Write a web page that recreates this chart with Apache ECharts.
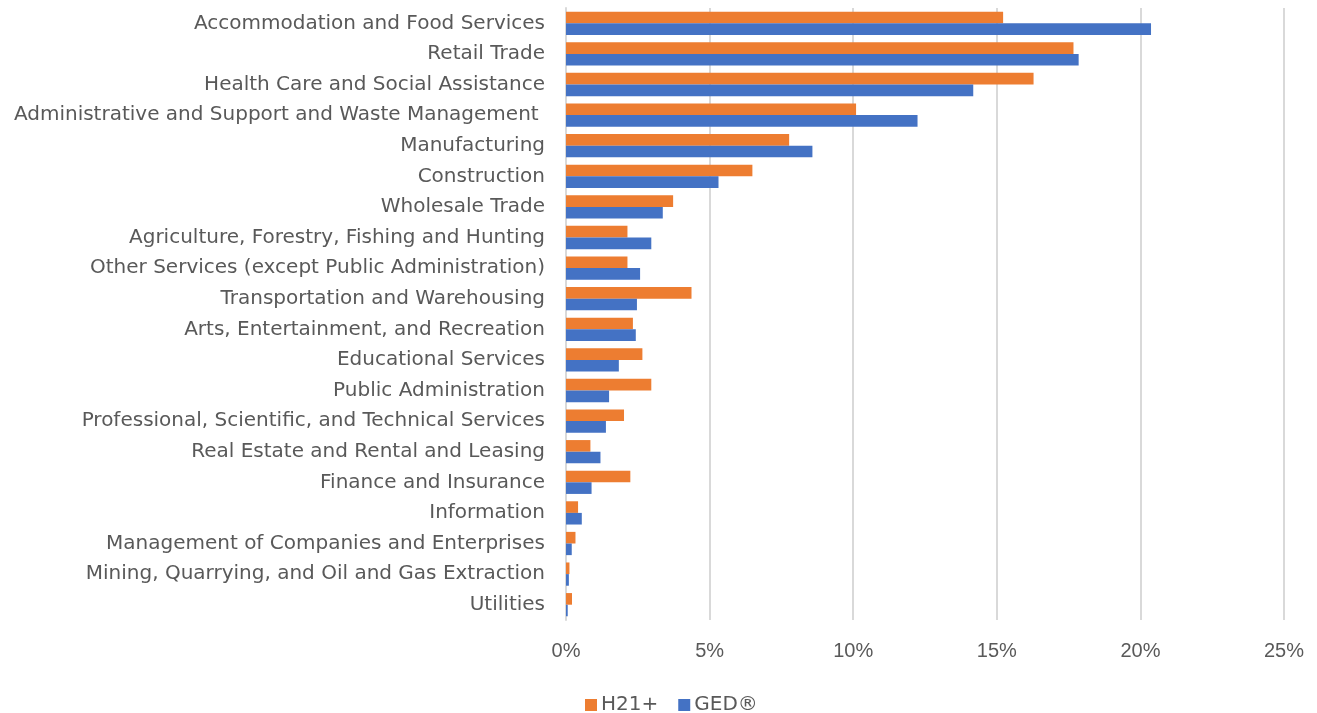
<!DOCTYPE html>
<html><head><meta charset="utf-8">
<script src="https://cdn.jsdelivr.net/npm/echarts@6/dist/echarts.min.js"></script>
<style>html,body{margin:0;padding:0;background:#fff}#c{width:1317px;height:713px}</style>
</head><body><div id="c"></div>
<script>
const categories = [
  "Accommodation and Food Services",
  "Retail Trade",
  "Health Care and Social Assistance",
  "Administrative and Support and Waste Management ",
  "Manufacturing",
  "Construction",
  "Wholesale Trade",
  "Agriculture, Forestry, Fishing and Hunting",
  "Other Services (except Public Administration)",
  "Transportation and Warehousing",
  "Arts, Entertainment, and Recreation",
  "Educational Services",
  "Public Administration",
  "Professional, Scientific, and Technical Services",
  "Real Estate and Rental and Leasing",
  "Finance and Insurance",
  "Information",
  "Management of Companies and Enterprises",
  "Mining, Quarrying, and Oil and Gas Extraction",
  "Utilities"
];
const h21 = [15.22, 17.67, 16.28, 10.10, 7.77, 6.49, 3.73, 2.14, 2.14, 4.37, 2.33, 2.66, 2.97, 2.02, 0.85, 2.24, 0.42, 0.33, 0.12, 0.21];
const ged = [20.37, 17.85, 14.18, 12.24, 8.58, 5.31, 3.37, 2.97, 2.58, 2.47, 2.43, 1.84, 1.50, 1.39, 1.20, 0.89, 0.55, 0.20, 0.10, 0.06];
const seriesNames = ["H21+", "GED®"];

const chart = echarts.init(document.getElementById('c'));
const font = "'DejaVu Sans', 'Liberation Sans', Arial, sans-serif";
const tickFont = "'Liberation Sans', Arial, sans-serif";
chart.setOption({
  animation: false,
  textStyle: {fontFamily: font},
  grid: {left: 566, right: 33, top: 8, bottom: 93, containLabel: false},
  legend: {
    bottom: -7, left: 580,
    itemWidth: 12, itemHeight: 12, itemGap: 20,
    icon: 'rect',
    textStyle: {fontSize: 20, color: '#595959', fontFamily: font, padding: [0, 0, 0, -1]},
    data: seriesNames
  },
  xAxis: {
    type: 'value', min: 0, max: 25, interval: 5,
    axisLine: {show: false}, axisTick: {show: false},
    splitLine: {lineStyle: {color: '#d9d9d9', width: 2}},
    axisLabel: {formatter: '{value}%', fontSize: 20, color: '#595959', margin: 21, fontFamily: tickFont}
  },
  yAxis: {
    type: 'category', inverse: true, data: categories,
    axisLine: {lineStyle: {color: '#d9d9d9', width: 2}},
    axisTick: {show: false},
    axisLabel: {fontSize: 20, color: '#595959', margin: 21, fontFamily: font}
  },
  series: [
    {name: seriesNames[0], type: 'bar', data: h21, itemStyle: {color: '#ED7D31'}, barGap: '0%', barCategoryGap: '24%'},
    {name: seriesNames[1], type: 'bar', data: ged, itemStyle: {color: '#4472C4'}, barGap: '0%', barCategoryGap: '24%'}
  ]
});
</script></body></html>
